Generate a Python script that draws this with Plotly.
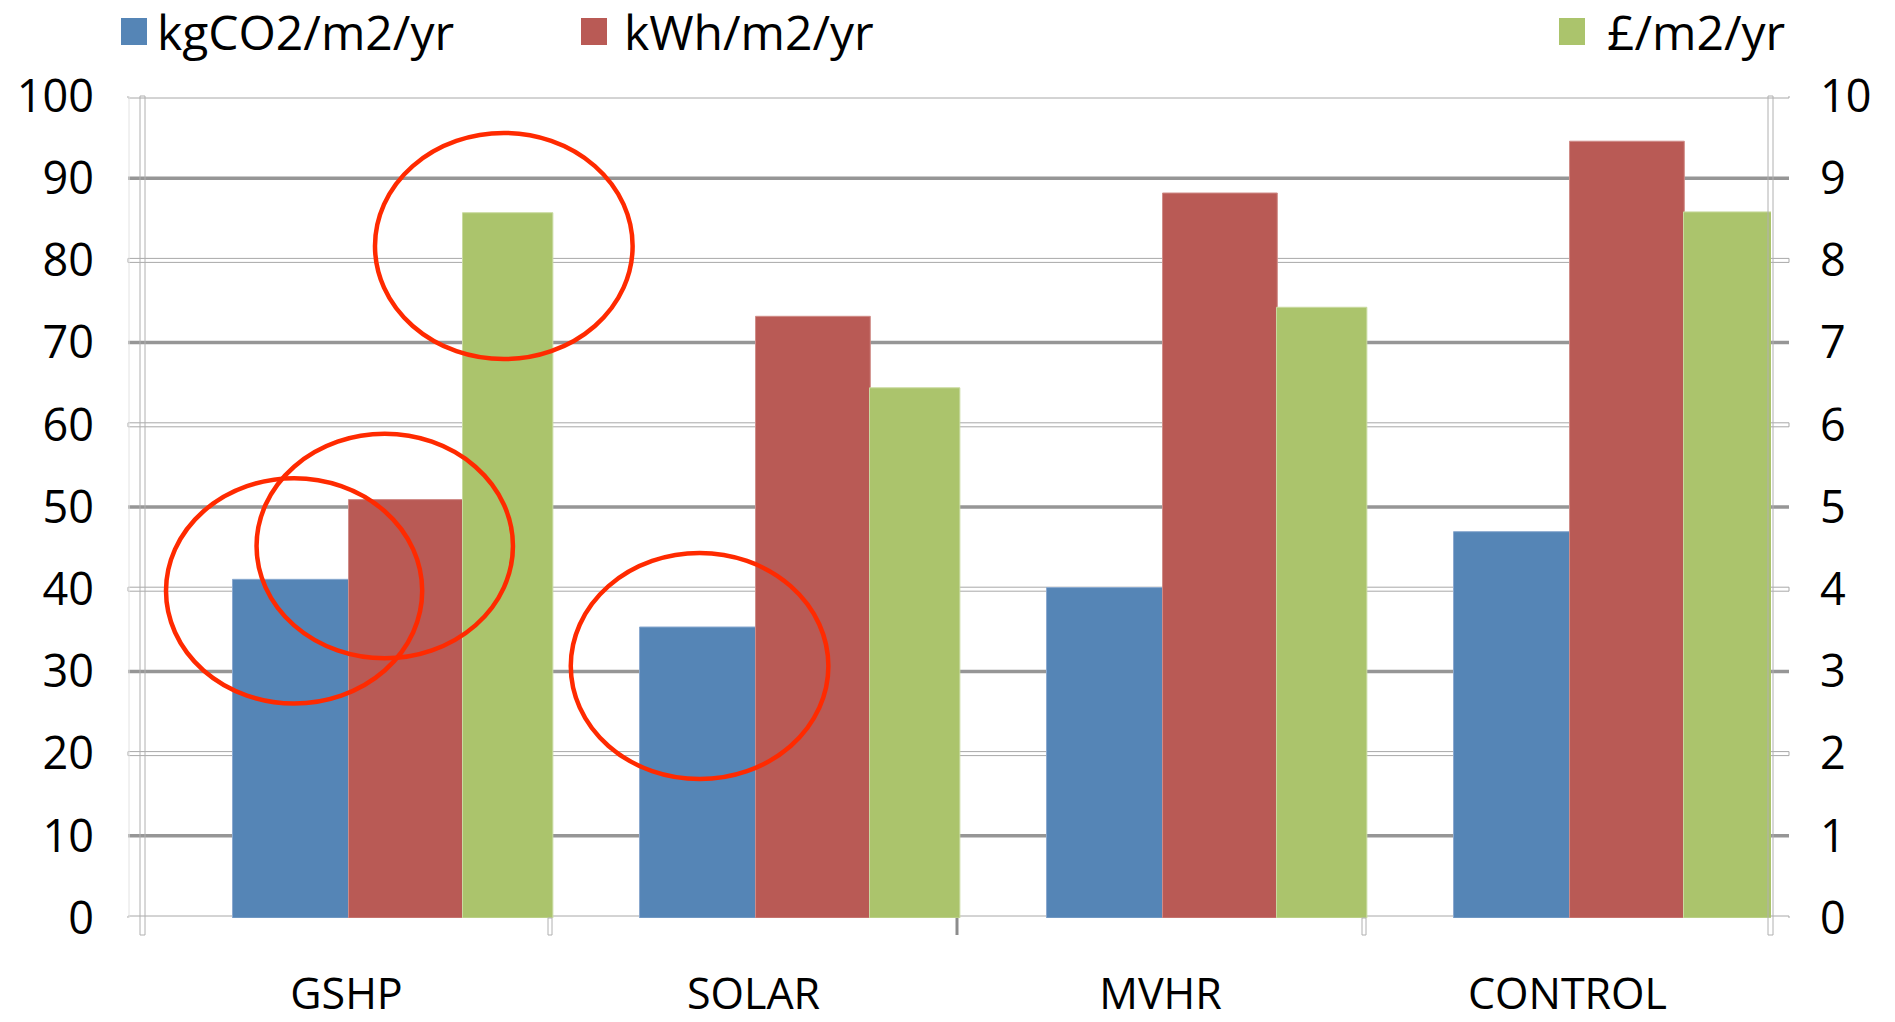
import plotly.graph_objects as go

# ---- data ----
categories = ["GSHP", "SOLAR", "MVHR", "CONTROL"]
co2_per_m2 = [41.2, 35.4, 40.2, 47.0]        # kgCO2/m2/yr (left axis)
kwh_per_m2 = [50.9, 73.2, 88.2, 94.5]        # kWh/m2/yr (left axis)
cost_per_m2 = [8.58, 6.45, 7.43, 8.59]       # £/m2/yr (right axis)
series_names = ["kgCO2/m2/yr", "kWh/m2/yr", "£/m2/yr"]
left_ticks = list(range(0, 101, 10))
right_ticks = list(range(0, 11, 1))

# ---- layout geometry (pixels) ----
W, H = 1895, 1022
L, R, T, B = 143, 124, 96, 104
PW, PH = W - L - R, H - T - B

def px_x(px):
    return (px - L) / PW

def px_y(py):
    return (H - B - py) / PH

FONT = "Open Sans, Liberation Sans, sans-serif"
BLUE, RED, GREEN = "#5585b6", "#b95a55", "#abc46c"

fig = go.Figure()
fig.add_trace(go.Bar(x=categories, y=co2_per_m2, name=series_names[0],
                     offset=-0.280, width=0.285, marker_color=BLUE,
                     marker_line=dict(color="#8aa9cf", width=1)))
fig.add_trace(go.Bar(x=categories, y=kwh_per_m2, name=series_names[1],
                     offset=0.005, width=0.282, marker_color=RED,
                     marker_line=dict(color="#d08c88", width=1)))
fig.add_trace(go.Bar(x=categories, y=cost_per_m2, name=series_names[2],
                     offset=0.285, width=0.222, marker_color=GREEN,
                     marker_line=dict(color="#c9daa0", width=1), yaxis="y2"))

shapes = []
# horizontal gridlines: solid on odd decades, hollow double rule on even ones
for v in left_ticks:
    if (v // 10) % 2 == 1:
        shapes.append(dict(type="line", xref="paper", yref="y",
                           x0=px_x(128), x1=px_x(1789), y0=v, y1=v,
                           line=dict(color="#969696", width=3.5), layer="below"))
    else:
        shapes.append(dict(type="rect", xref="paper", yref="y",
                           x0=px_x(128), x1=px_x(1789),
                           ysizemode="pixel", yanchor=v, y0=-2, y1=2,
                           line=dict(color="#a8a8a8", width=1), layer="below"))

# faint outer frame line on the left
shapes.append(dict(type="line", xref="paper", yref="paper",
                   x0=px_x(129), x1=px_x(129), y0=0, y1=1,
                   line=dict(color="#e2e2e2", width=1), layer="below"))

# value axes (hollow double rules) and category separators
for xa in (0.0, 1.0):
    shapes.append(dict(type="rect", xref="paper", yref="paper",
                       xsizemode="pixel", xanchor=xa, x0=-3, x1=2,
                       ysizemode="pixel", yanchor=0, y0=-17, y1=PH,
                       line=dict(color="#b0b0b0", width=1), layer="above"))
for i, b in enumerate([0.5, 1.5, 2.5]):
    if i == 1:
        shapes.append(dict(type="line", xref="x", yref="paper", x0=b, x1=b,
                           ysizemode="pixel", yanchor=0, y0=-17, y1=0,
                           line=dict(color="#8c8c8c", width=3)))
    else:
        shapes.append(dict(type="rect", xref="x", yref="paper",
                           xsizemode="pixel", xanchor=b, x0=-2, x1=2,
                           ysizemode="pixel", yanchor=0, y0=-17, y1=0,
                           line=dict(color="#b0b0b0", width=1)))

# red highlight ellipses (x in category units, y in left-axis units)
highlights = [(-0.4435, 0.186, 26.1, 53.5),
              (-0.221, 0.409, 31.6, 58.9),
              (0.070, 0.703, 68.0, 95.5),
              (0.551, 1.184, 16.9, 44.4)]
for x0, x1, y0, y1 in highlights:
    shapes.append(dict(type="circle", xref="x", yref="y",
                       x0=x0, x1=x1, y0=y0, y1=y1,
                       line=dict(color="#ff2a00", width=4.5), layer="above"))

# legend: coloured squares with labels
legend_items = [(121, BLUE, 155), (581, RED, 622), (1559, GREEN, 1605)]
annotations = []
for (sx, col, tx), name in zip(legend_items, series_names):
    shapes.append(dict(type="rect", xref="paper", yref="paper",
                       x0=px_x(sx), x1=px_x(sx + 26), y0=px_y(45), y1=px_y(18),
                       fillcolor=col, line=dict(width=0)))
    annotations.append(dict(text=name, xref="paper", yref="paper",
                            x=px_x(tx), y=px_y(31), xanchor="left", yanchor="middle",
                            showarrow=False, font=dict(family=FONT, size=48, color="black")))

fig.update_layout(
    width=W, height=H,
    margin=dict(l=L, r=R, t=T, b=B, pad=0, autoexpand=False),
    paper_bgcolor="white", plot_bgcolor="white",
    barmode="overlay", showlegend=False,
    font=dict(family=FONT, size=44, color="black"),
    xaxis=dict(type="category", range=[-0.5, 3.5], showgrid=False, zeroline=False,
               showline=False, ticks="", ticklabelstandoff=47, automargin=False,
               tickfont=dict(family=FONT, size=43, color="black")),
    yaxis=dict(range=[0, 100], tickvals=left_ticks, showgrid=False, zeroline=False,
               showline=False, ticks="", ticklabelstandoff=48, automargin=False,
               tickfont=dict(family=FONT, size=45, color="black")),
    yaxis2=dict(range=[0, 10], tickvals=right_ticks, overlaying="y", side="right",
                showgrid=False, zeroline=False, showline=False, ticks="",
                ticklabelstandoff=48, automargin=False,
                tickfont=dict(family=FONT, size=45, color="black")),
    shapes=shapes, annotations=annotations,
)

fig.write_html("out.html")
